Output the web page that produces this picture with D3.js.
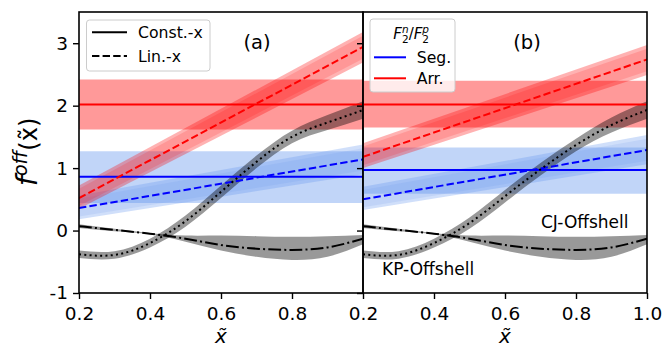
<!DOCTYPE html>
<html><head><meta charset="utf-8">
<script src="https://cdn.jsdelivr.net/npm/d3@7"></script>
<style>
body{margin:0;background:#fff}
svg{display:block}
text{font-family:"DejaVu Sans",sans-serif;fill:#000}
</style>
</head><body>
<svg id="chart" width="664" height="347"></svg>
<script>
// ---- data ----
const panels = ["(a)", "(b)"];
const xTicksA = [0.2, 0.4, 0.6, 0.8];
const xTicksB = [0.2, 0.4, 0.6, 0.8, 1.0];
const yTicks = [-1, 0, 1, 2, 3];
const xEnds = [0.2, 1.0];
const xGrid = [0.2, 0.3, 0.4, 0.5, 0.6, 0.7, 0.8, 0.9, 1.0];

// off-shell functions on xGrid
const ddCurve = [0.07, 0.01, -0.05, -0.13, -0.23, -0.29, -0.31, -0.27, -0.13];
const ddHi = [0.10, 0.03, -0.04, -0.08, -0.08, -0.09, -0.10, -0.09, -0.07];
const ddLo = [0.04, -0.01, -0.06, -0.18, -0.32, -0.42, -0.47, -0.42, -0.22];
const dotCurveA = [-0.38, -0.39, -0.20, 0.15, 0.62, 1.10, 1.50, 1.73, 1.93];
const dotCurveB = [-0.38, -0.39, -0.20, 0.12, 0.55, 0.98, 1.37, 1.69, 1.93];
const dotErr = [0.06, 0.06, 0.07, 0.09, 0.10, 0.10, 0.10, 0.12, 0.14];

// fitted normalisations, panel (a) then (b)
const segConst = [0.86, 0.97];
const segConstBand = [[0.44, 1.27], [0.59, 1.33]];
const arrConst = [2.02, 2.02];
const arrConstBand = [[1.62, 2.42], [1.65, 2.40]];
// linear-in-x fits: values at x = 0.2 and x = 1.0
const segLin = [[0.36, 1.14], [0.50, 1.29]];
const segLinLo = [[0.18, 0.90], [0.33, 1.06]];
const segLinHi = [[0.56, 1.38], [0.70, 1.53]];
const arrLin = [[0.52, 2.94], [1.18, 2.74]];
const arrLinLo = [[0.35, 2.69], [1.00, 2.49]];
const arrLinHi = [[0.72, 3.18], [1.40, 2.97]];

// ---- layout ----
const svg = d3.select("#chart");
const plotTop = 12, plotBottom = 293;
const panelX = [[79, 363], [363, 647]];
const y = d3.scaleLinear().domain([-1, 3.5]).range([plotBottom, plotTop]);

const RED = "#ff0000", BLUE = "#0000ff";
const RED_BAND = "#ff0000", BLUE_BAND = "#6495ed";

const defs = svg.append("defs");

panels.forEach((name, p) => {
  const x = d3.scaleLinear().domain([0.2, 1.0]).range(panelX[p]);
  const clipId = "clip" + p;
  defs.append("clipPath").attr("id", clipId).append("rect")
    .attr("x", panelX[p][0]).attr("y", plotTop)
    .attr("width", panelX[p][1] - panelX[p][0]).attr("height", plotBottom - plotTop);

  const g = svg.append("g").attr("clip-path", `url(#${clipId})`);

  const area = d3.area().x(d => x(d.x)).y0(d => y(d.lo)).y1(d => y(d.hi));
  const line = d3.line().x(d => x(d.x)).y(d => y(d.v));
  const smoothArea = d3.area().curve(d3.curveNatural).x(d => x(d.x)).y0(d => y(d.lo)).y1(d => y(d.hi));
  const smoothLine = d3.line().curve(d3.curveNatural).x(d => x(d.x)).y(d => y(d.v));

  const flat = (lo, hi) => xEnds.map(xx => ({x: xx, lo, hi}));
  const slant = (lo, hi) => xEnds.map((xx, i) => ({x: xx, lo: lo[i], hi: hi[i]}));
  const core = (c, lo, hi, f) => xEnds.map((xx, i) => ({x: xx, lo: c[i] - f * (c[i] - lo[i]), hi: c[i] + f * (hi[i] - c[i])}));

  // blue bands
  g.append("path").attr("d", area(flat(segConstBand[p][0], segConstBand[p][1])))
    .attr("fill", BLUE_BAND).attr("fill-opacity", 0.4);
  g.append("path").attr("d", area(slant(segLinLo[p], segLinHi[p])))
    .attr("fill", BLUE_BAND).attr("fill-opacity", 0.3);
  g.append("path").attr("d", area(core(segLin[p], segLinLo[p], segLinHi[p], 0.75)))
    .attr("fill", BLUE_BAND).attr("fill-opacity", 0.15);

  // red bands
  g.append("path").attr("d", area(flat(arrConstBand[p][0], arrConstBand[p][1])))
    .attr("fill", RED_BAND).attr("fill-opacity", 0.4);
  g.append("path").attr("d", area(slant(arrLinLo[p], arrLinHi[p])))
    .attr("fill", RED_BAND).attr("fill-opacity", 0.3);
  g.append("path").attr("d", area(core(arrLin[p], arrLinLo[p], arrLinHi[p], 0.75)))
    .attr("fill", RED_BAND).attr("fill-opacity", 0.15);

  // off-shell bands
  const dotC = p === 0 ? dotCurveA : dotCurveB;
  g.append("path")
    .attr("d", smoothArea(xGrid.map((xx, i) => ({x: xx, lo: ddLo[i], hi: ddHi[i]}))))
    .attr("fill", "#000").attr("fill-opacity", 0.4);
  g.append("path")
    .attr("d", smoothArea(xGrid.map((xx, i) => ({x: xx, lo: dotC[i] - dotErr[i], hi: dotC[i] + dotErr[i]}))))
    .attr("fill", "#000").attr("fill-opacity", 0.4);

  // fit lines
  g.append("path").attr("d", line(xEnds.map(xx => ({x: xx, v: segConst[p]}))))
    .attr("stroke", BLUE).attr("stroke-width", 2).attr("fill", "none");
  g.append("path").attr("d", line(xEnds.map(xx => ({x: xx, v: arrConst[p]}))))
    .attr("stroke", RED).attr("stroke-width", 2).attr("fill", "none");
  g.append("path").attr("d", line(xEnds.map((xx, i) => ({x: xx, v: segLin[p][i]}))))
    .attr("stroke", BLUE).attr("stroke-width", 2).attr("fill", "none").attr("stroke-dasharray", "7.4,3.2");
  g.append("path").attr("d", line(xEnds.map((xx, i) => ({x: xx, v: arrLin[p][i]}))))
    .attr("stroke", RED).attr("stroke-width", 2).attr("fill", "none").attr("stroke-dasharray", "7.4,3.2");

  // off-shell curves
  g.append("path").attr("d", smoothLine(xGrid.map((xx, i) => ({x: xx, v: ddCurve[i]}))))
    .attr("stroke", "#000").attr("stroke-width", 2).attr("fill", "none")
    .attr("stroke-dasharray", "12.8,3.2,2,3.2");
  g.append("path").attr("d", smoothLine(xGrid.map((xx, i) => ({x: xx, v: dotC[i]}))))
    .attr("stroke", "#000").attr("stroke-width", 2).attr("fill", "none")
    .attr("stroke-dasharray", "2,3.3");

  // axes
  const xAxis = d3.axisBottom(x).tickValues(p === 0 ? xTicksA : xTicksB)
    .tickSize(6).tickPadding(8).tickFormat(d3.format(".1f"));
  const gx = svg.append("g").attr("transform", `translate(0,${plotBottom})`).call(xAxis);
  gx.select(".domain").remove();
  gx.selectAll("line").attr("stroke-width", 1.4);
  gx.selectAll("text").attr("font-size", 18.5).attr("font-family", "DejaVu Sans");

  const yAxis = d3.axisLeft(y).tickValues(yTicks).tickSize(6).tickPadding(5)
    .tickFormat(d => (p === 0 ? d3.format("d")(d).replace("\u2212", "-") : ""));
  const gy = svg.append("g").attr("transform", `translate(${panelX[p][0]},0)`).call(yAxis);
  gy.select(".domain").remove();
  gy.selectAll("line").attr("stroke-width", 1.4);
  gy.selectAll("text").attr("font-size", 18.5).attr("font-family", "DejaVu Sans");

  // frame
  svg.append("rect").attr("x", panelX[p][0]).attr("y", plotTop)
    .attr("width", panelX[p][1] - panelX[p][0]).attr("height", plotBottom - plotTop)
    .attr("fill", "none").attr("stroke", "#000").attr("stroke-width", 1.6);

  // x label
  const mid = (panelX[p][0] + panelX[p][1]) / 2;
  svg.append("text").attr("x", mid).attr("y", 343).attr("text-anchor", "middle")
    .attr("font-size", 20).attr("font-style", "italic").text("x\u0303");

  // panel tag
  svg.append("text").attr("x", p === 0 ? 257 : 527).attr("y", 49).attr("text-anchor", "middle")
    .attr("font-size", 19.5).text(name);
});

// y label
const yl = svg.append("text").attr("transform", "translate(37,152) rotate(-90)")
  .attr("text-anchor", "middle");
yl.append("tspan").attr("font-style", "italic").attr("font-size", 29).text("f");
yl.append("tspan").attr("font-style", "italic").attr("font-size", 19).attr("dy", -10).text("off");
yl.append("tspan").attr("font-size", 24).attr("dy", 10).text("(x\u0303)");

// legend (a): line styles
const la = svg.append("g");
la.append("rect").attr("x", 86.5).attr("y", 20).attr("width", 123.5).attr("height", 51).attr("rx", 3)
  .attr("fill", "#fff").attr("fill-opacity", 0.8).attr("stroke", "#cccccc").attr("stroke-width", 1);
const styleLegend = [{label: "Const.-x", dash: null, y: 32.3}, {label: "Lin.-x", dash: "7.4,3.2", y: 56}];
styleLegend.forEach(d => {
  la.append("line").attr("x1", 92).attr("x2", 127).attr("y1", d.y).attr("y2", d.y)
    .attr("stroke", "#000").attr("stroke-width", 2).attr("stroke-dasharray", d.dash);
  la.append("text").attr("x", 138).attr("y", d.y + 5.7).attr("font-size", 15.7).text(d.label);
});

// legend (b): F2n/F2p models, title set as one line with stacked indices
const lb = svg.append("g");
lb.append("rect").attr("x", 370).attr("y", 19).attr("width", 85).attr("height", 73).attr("rx", 3)
  .attr("fill", "#fff").attr("fill-opacity", 0.8).attr("stroke", "#cccccc").attr("stroke-width", 1);
const idx = 10.5, nW = 0.634 * idx, pW = 0.635 * idx;
const title = lb.append("text").attr("x", 393.3).attr("y", 39).attr("font-size", 15);
title.append("tspan").attr("font-style", "italic").text("F");
title.append("tspan").attr("font-style", "italic").attr("font-size", idx).attr("dy", -6).text("n");
title.append("tspan").attr("font-size", idx).attr("dx", -nW).attr("dy", 9.5).text("2");
title.append("tspan").attr("dy", -3.5).text("/");
title.append("tspan").attr("font-style", "italic").text("F");
title.append("tspan").attr("font-style", "italic").attr("font-size", idx).attr("dy", -6).text("p");
title.append("tspan").attr("font-size", idx).attr("dx", -pW).attr("dy", 9.5).text("2");

const modelLegend = [{label: "Seg.", color: BLUE, y: 57.3}, {label: "Arr.", color: RED, y: 78.3}];
modelLegend.forEach(d => {
  lb.append("line").attr("x1", 374).attr("x2", 406).attr("y1", d.y).attr("y2", d.y)
    .attr("stroke", d.color).attr("stroke-width", 2);
  lb.append("text").attr("x", 416.7).attr("y", d.y + 5.7).attr("font-size", 15.7).text(d.label);
});

// curve annotations
svg.append("text").attr("x", 541).attr("y", 228).attr("font-size", 17).text("CJ-Offshell");
svg.append("text").attr("x", 382).attr("y", 275).attr("font-size", 17).text("KP-Offshell");
</script>
</body></html>
